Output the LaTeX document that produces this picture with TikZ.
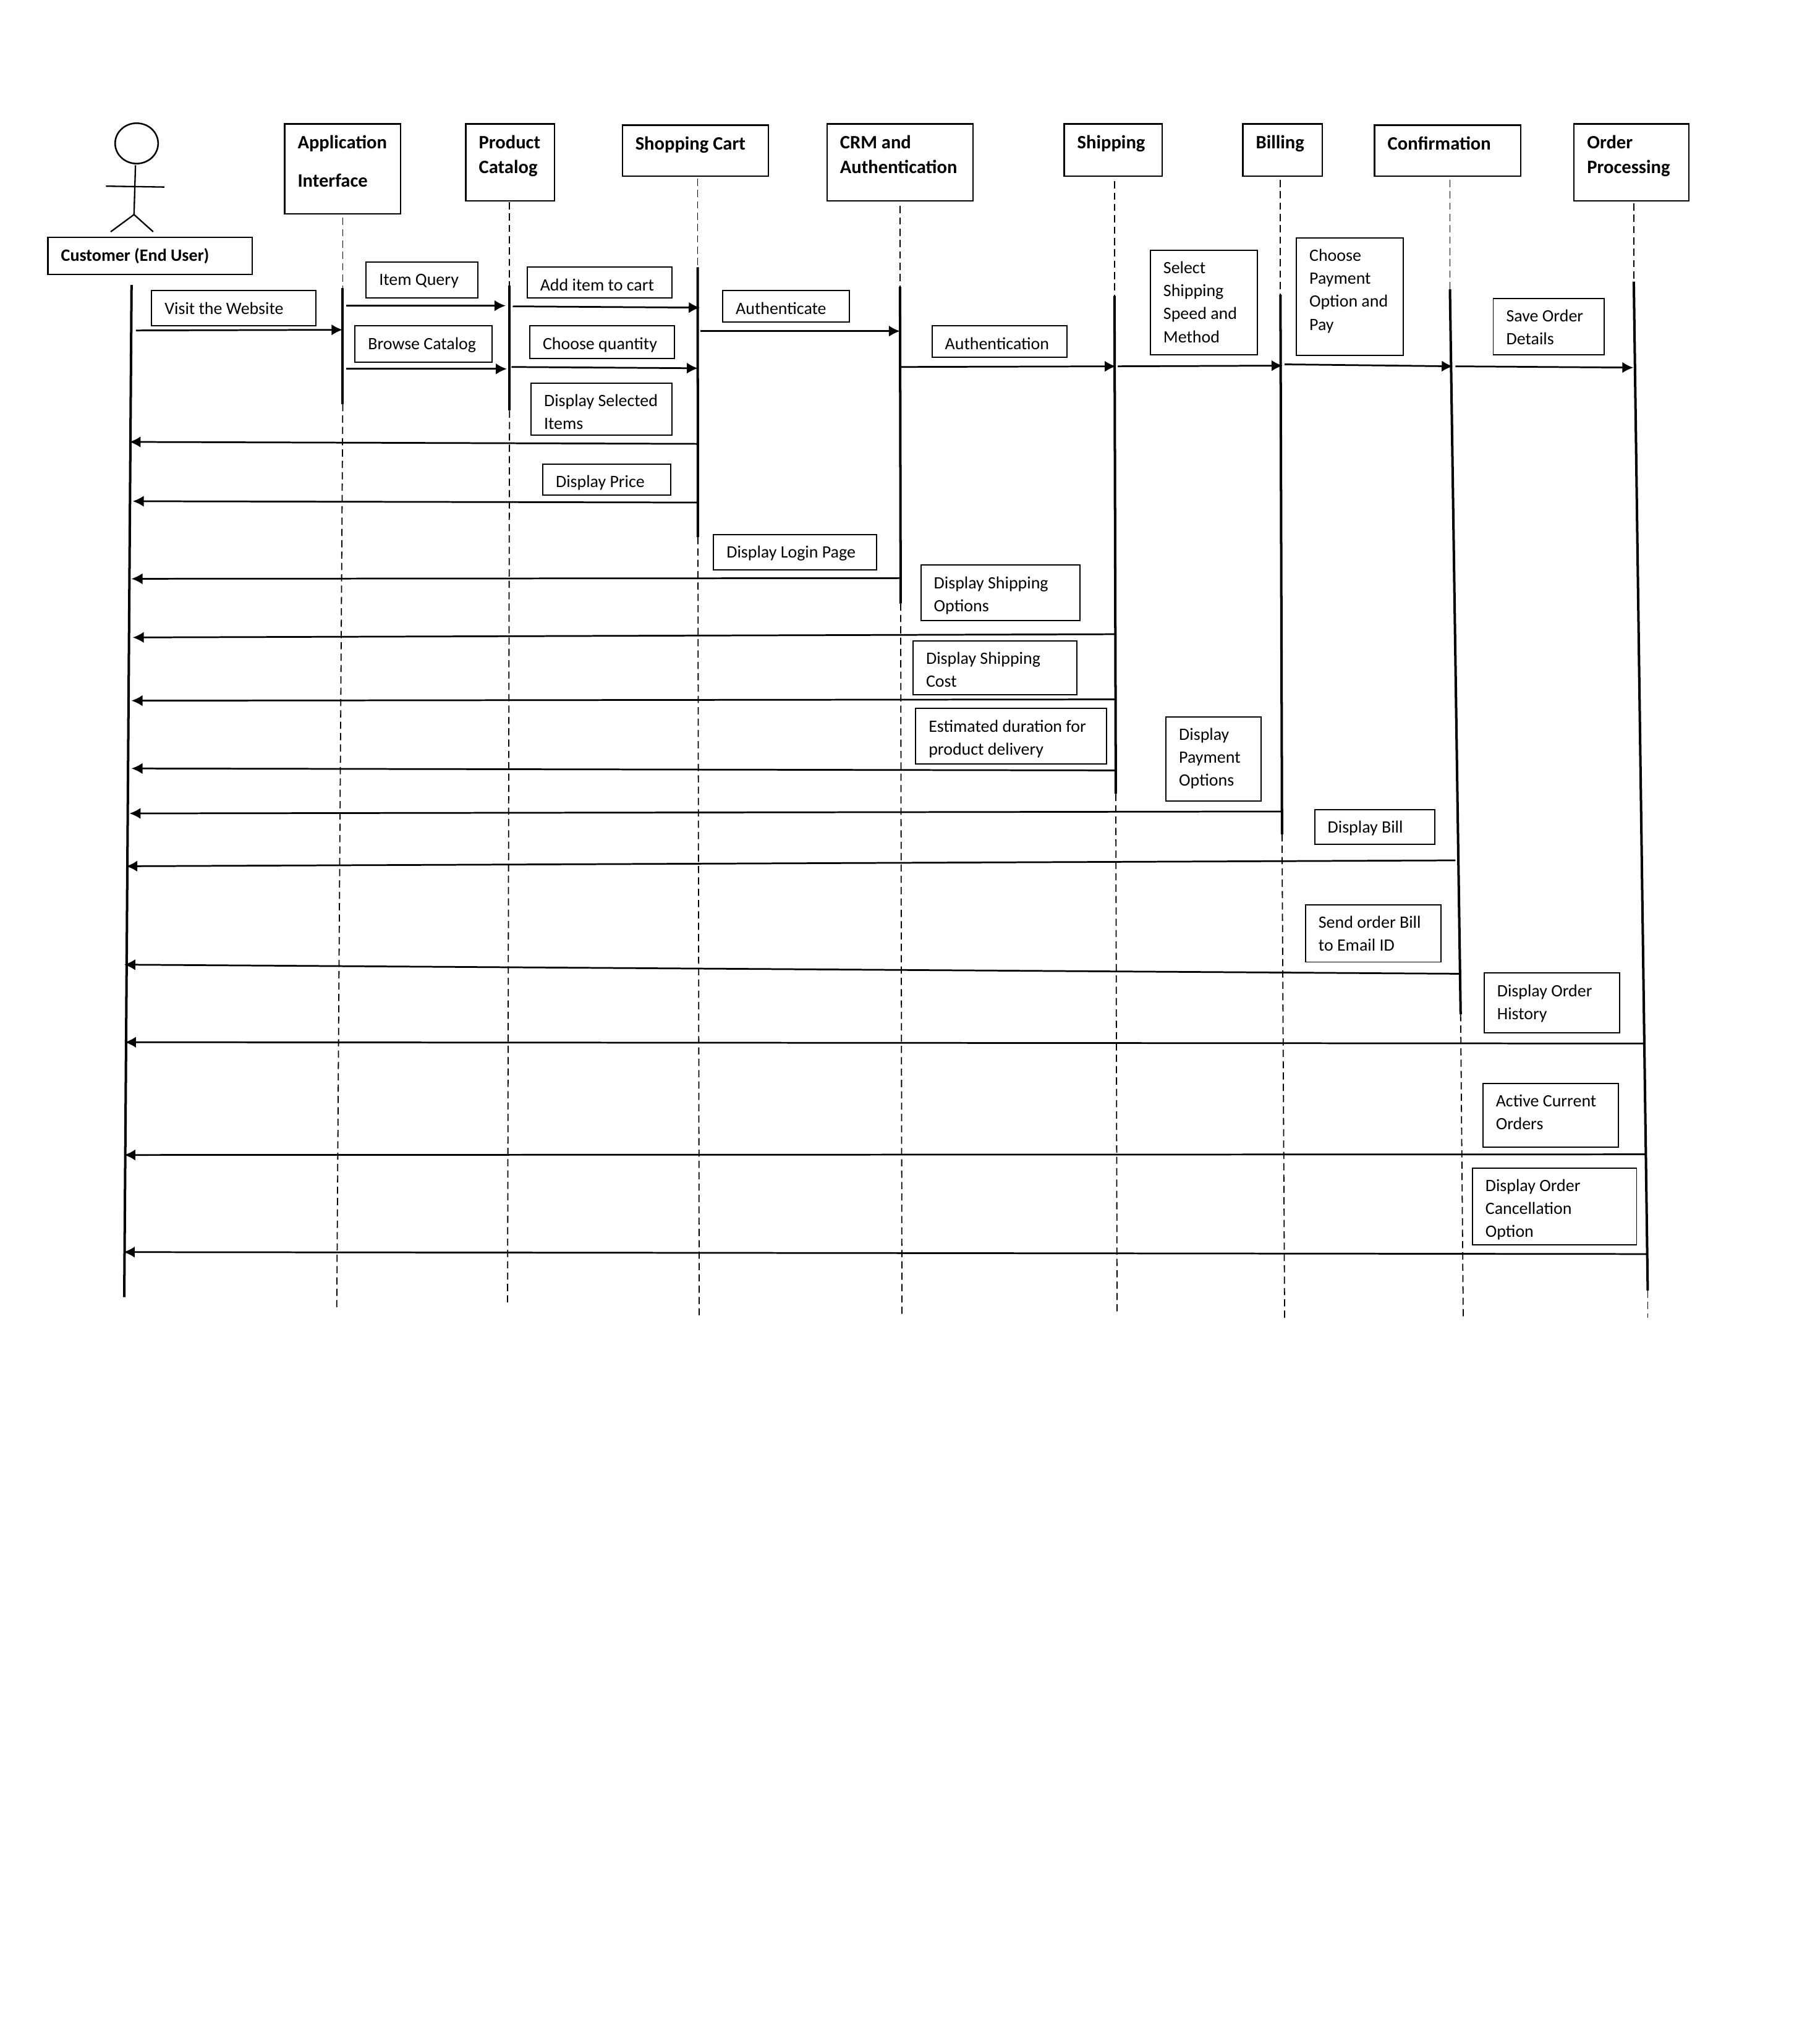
\documentclass[tikz,border=0pt]{standalone}
\usepackage{fontspec}
\setmainfont{Carlito}
\usetikzlibrary{arrows.meta,shapes.geometric}
\tikzset{
  msgbox/.style={draw=black,line width=0.9pt,inner sep=0pt,outer sep=0pt,fill=white,font=\fontsize{13.25}{17.6}\selectfont\def\firstbase{17.9pt}},
  headbox/.style={draw=black,line width=1.1pt,inner sep=0pt,outer sep=0pt,font=\bfseries\fontsize{14.5}{19}\selectfont\def\firstbase{18.9pt}},
  widehead/.style={headbox,font=\bfseries\fontsize{14.5}{29.6}\selectfont\def\firstbase{18.9pt}},
  actorbox/.style={headbox,font=\bfseries\fontsize{13.3}{17.6}\selectfont\def\firstbase{18.2pt}},
  msg/.style={line width=1.3pt,-{Latex[length=8.5pt,width=8.5pt]}},
  actorline/.style={line width=1.1pt},
  life/.style={line width=1.9pt},
  lifedash/.style={line width=0.85pt,dash pattern=on 5.5pt off 3.2pt},
}
% style, name, x1, y1, x2, y2, text
\newcommand{\bx}[7]{%
  \pgfmathsetlengthmacro\bxw{#5-#3}%
  \pgfmathsetlengthmacro\bxh{#6-#4}%
  \node[#1,anchor=north west] (#2) at (#3,#4) {\parbox[c][\bxh][t]{\bxw}{\leftskip=10pt\rightskip=0pt plus 1fil\parindent=0pt\rule{0pt}{\firstbase}#7}};%
}
% name, x, y-dash-top, y-bar-top, x-bar-end, y-bar-end, x-dash-end, y-dash-end
\newcommand{\lifeline}[8]{%
  \coordinate (#1-a) at (#2,#3);
  \coordinate (#1-b) at (#2,#4);
  \coordinate (#1-c) at (#5,#6);
  \coordinate (#1-d) at (#7,#8);
  \draw[lifedash] (#1-a) -- (#1-b);
  \draw[lifedash] (#1-c) -- (#1-d);
  \draw[life] (#1-b) -- (#1-c);
}
% name, x1, y1, x2, y2
\newcommand{\mess}[5]{%
  \coordinate (#1-s) at (#2,#3);
  \coordinate (#1-t) at (#4,#5);
  \draw[msg] (#1-s) -- (#1-t);
}
\begin{document}
\begin{tikzpicture}[x=1pt,y=-1pt]
\useasboundingbox (-0.3,0) rectangle (1381.7,1568);

% actor
\node[draw=black,line width=1.2pt,ellipse,minimum width=33pt,minimum height=31pt,inner sep=0pt,outer sep=0pt] (head) at (104.5,110) {};
\coordinate (neck) at (103.6,126.8);
\coordinate (hip) at (102.5,164.6);
\coordinate (armL) at (81,142.8);
\coordinate (armR) at (125.8,143.5);
\coordinate (legL) at (84.6,177.8);
\coordinate (legR) at (117.2,177.8);
\draw[actorline] (neck) -- (hip);
\draw[actorline] (armL) -- (armR);
\draw[actorline] (legL) -- (hip) -- (legR);

% header boxes
\bx{actorbox}{customer}{36.5}{182}{193}{210.5}{Customer (End User)}
\bx{widehead}{app}{218}{95}{307}{164}{Application\\Interface}
\bx{headbox}{catalog}{357}{95}{425}{154}{Product\\Catalog}
\bx{headbox}{cart}{477}{96}{589}{135}{Shopping Cart}
\bx{headbox}{crm}{634}{95}{746}{154}{CRM and\\Authentication}
\bx{headbox}{shipping}{816}{95}{891}{135}{Shipping}
\bx{headbox}{billing}{953}{95}{1014}{135}{Billing}
\bx{headbox}{confirm}{1054}{96}{1166}{135}{Confirmation}
\bx{headbox}{order}{1207}{95}{1295}{154}{Order\\Processing}

% lifelines
\coordinate (cust-top) at (100.6,218.6);
\coordinate (cust-end) at (95,995);
\draw[life] (cust-top) -- (cust-end);
\lifeline{lapp}{262.6}{167}{221}{262.6}{310}{258}{1003}
\lifeline{lcat}{390.5}{155}{219}{390.5}{315}{389}{1002}
\lifeline{lcart}{534.8}{137}{205}{535}{412}{536}{1009}
\lifeline{lcrm}{690}{158}{220}{690.5}{463}{691.5}{1009}
\lifeline{lship}{854.5}{139}{227}{855.5}{609}{856.5}{1009}
\lifeline{lbill}{981.8}{138}{226}{983}{640}{985}{1011}
\lifeline{lconf}{1111.8}{138}{222}{1120}{778}{1122}{1011}
\lifeline{lord}{1252.8}{156}{216}{1263.5}{990}{1263.5}{1011}

% message labels
\bx{msgbox}{b1}{116}{223}{242}{250}{Visit the Website}
\bx{msgbox}{b2}{280.5}{201}{366}{228.5}{Item Query}
\bx{msgbox}{b3}{272}{250}{377}{278}{Browse Catalog}
\bx{msgbox}{b4}{404}{205}{515}{228.5}{Add item to cart}
\bx{msgbox}{b5}{406}{250}{517}{275}{Choose quantity}
\bx{msgbox}{b6}{407}{294}{515}{334}{Display Selected\\Items}
\bx{msgbox}{b7}{416}{356}{514}{380}{Display Price}
\bx{msgbox}{b8}{554}{223}{651}{247}{Authenticate}
\bx{msgbox}{b9}{714.5}{250}{818}{274}{Authentication}
\bx{msgbox}{b10}{882}{192}{964}{272}{Select\\Shipping\\Speed and\\Method}
\bx{msgbox}{b11}{994}{182.5}{1076}{272.5}{Choose\\Payment\\Option and\\Pay}
\bx{msgbox}{b12}{1145}{229}{1230}{272}{Save Order\\Details}
\bx{msgbox}{b13}{547}{410}{672}{437}{Display Login Page}
\bx{msgbox}{b14}{706}{433.5}{828}{476}{Display Shipping\\Options}
\bx{msgbox}{b15}{700}{491.5}{825.5}{533}{Display Shipping\\Cost}
\bx{msgbox}{b16}{702}{543.5}{848.5}{586}{Estimated duration for\\product delivery}
\bx{msgbox}{b17}{894}{550}{967}{614.5}{Display\\Payment\\Options}
\bx{msgbox}{b18}{1008}{621}{1100}{647.5}{Display Bill}
\bx{msgbox}{b19}{1001}{694}{1105}{738}{Send order Bill\\to Email ID}
\bx{msgbox}{b20}{1138}{746.5}{1242}{792.5}{Display Order\\History}
\bx{msgbox}{b21}{1137}{831}{1241}{880}{Active Current\\Orders}
\bx{msgbox}{b22}{1129}{896}{1255}{955}{Display Order\\Cancellation\\Option}

% forward messages
\mess{m1}{104}{253.5}{262.5}{253}
\mess{m2}{265}{234.5}{387.5}{234.5}
\mess{m3}{265}{283}{388.5}{283}
\mess{m4}{393}{235}{536.5}{236}
\mess{m5}{392}{281.5}{535}{282.5}
\mess{m6}{537}{254}{690}{254}
\mess{m7}{691}{281.5}{855.5}{281}
\mess{m8}{857}{281}{983.5}{280.5}
\mess{m9}{985}{279.5}{1114}{281}
\mess{m10}{1116}{281}{1252.5}{282}
% return messages
\mess{r1}{535}{340.5}{99}{339}
\mess{r2}{535}{385.5}{101.5}{384.5}
\mess{r3}{690}{443.5}{100.5}{444}
\mess{r4}{855}{486.5}{101.5}{489}
\mess{r5}{855}{536.5}{100.5}{537.5}
\mess{r6}{855}{591}{100.5}{589.5}
\mess{r7}{983}{622.5}{99}{624}
\mess{r8}{1116}{660}{96.5}{664.5}
\mess{r9}{1119}{747}{95}{740}
\mess{r10}{1261}{800.5}{95.5}{799.5}
\mess{r11}{1262}{885.5}{95}{886}
\mess{r12}{1263}{962}{94.5}{960.5}
\end{tikzpicture}
\end{document}
